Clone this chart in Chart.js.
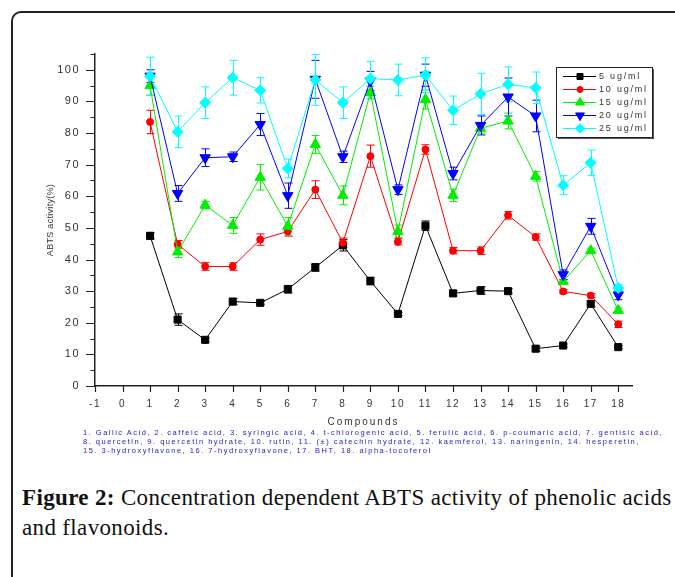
<!DOCTYPE html>
<html>
<head>
<meta charset="utf-8">
<script src="https://cdn.jsdelivr.net/npm/chart.js@4.4.0/dist/chart.umd.min.js"></script>
<style>
  html, body { margin: 0; padding: 0; background: #fff; overflow: hidden; width: 675px; height: 577px; }
  #frame { position: absolute; left: 11px; top: 11px; width: 720px; height: 620px; border: 2px solid #222; border-radius: 10px; }
  #chart-abts { position: absolute; left: 0; top: 0; }
  #notes { position: absolute; left: 83px; top: 428px; font-family: "Liberation Sans", Arial, sans-serif; font-size: 7.5px; line-height: 9px; letter-spacing: 1.5px; color: #2323c8; white-space: nowrap; }
  #caption { position: absolute; left: 22px; top: 483px; font-family: "Liberation Serif", "DejaVu Serif", serif; font-size: 23px; line-height: 30px; letter-spacing: 0.35px; color: #111; white-space: nowrap; }
</style>
</head>
<body>
<div id="frame"></div>
<canvas id="chart-abts" width="675" height="470"></canvas>
<div id="notes">1. Gallic Acid, 2. caffeic acid, 3. syringic acid, 4. t-chlorogenic acid, 5. ferulic acid, 6. p-coumaric acid, 7. gentisic acid,<br>8. quercetin, 9. quercetin hydrate, 10. rutin, 11. (±) catechin hydrate, 12. kaemferol, 13. naringenin, 14. hesperetin,<br>15. 3-hydroxyflavone, 16. 7-hydroxyflavone, 17. BHT, 18. alpha-tocoferol</div>
<div id="caption"><b>Figure 2:</b> Concentration dependent ABTS activity of phenolic acids<br>and flavonoids.</div>
<script>

	var compounds = [1, 2, 3, 4, 5, 6, 7, 8, 9, 10, 11, 12, 13, 14, 15, 16, 17, 18];

	var conc5  = [47.5, 21.0, 14.6, 26.7, 26.3, 30.6, 37.5, 44.5, 33.2, 22.8, 50.7, 29.3, 30.2, 30.0, 11.8, 12.8, 26.0, 12.3];
	var conc10 = [83.5, 44.8, 37.8, 37.8, 46.3, 48.9, 62.1, 45.3, 72.7, 45.6, 74.8, 42.8, 42.8, 54.0, 47.1, 29.9, 28.6, 19.5];
	var conc15 = [95.0, 42.4, 57.2, 50.8, 66.0, 50.5, 76.4, 60.3, 92.8, 48.9, 90.6, 60.3, 81.5, 83.8, 66.3, 33.1, 42.8, 23.9];
	var conc20 = [98.0, 60.9, 72.2, 72.5, 82.7, 60.2, 97.0, 72.5, 96.5, 62.1, 98.3, 67.2, 82.4, 91.4, 85.4, 35.2, 50.5, 28.8];
	var conc25 = [98.0, 80.4, 89.6, 97.5, 93.5, 68.8, 96.8, 89.6, 97.2, 96.8, 98.3, 87.2, 92.4, 95.4, 94.3, 63.5, 70.6, 31.0];

	// standard deviations (half height of each error bar)
	var err5  = [1.0, 1.8, 0.6, 1.0, 0.5, 1.2, 1.2, 1.8, 1.2, 0.5, 1.5, 0.8, 1.2, 0.8, 0.8, 0.5, 1.0, 0.5];
	var err10 = [3.7, 1.2, 1.2, 1.2, 1.8, 1.5, 2.8, 1.5, 3.5, 1.0, 1.5, 1.0, 1.2, 1.2, 1.0, 0.6, 0.6, 1.0];
	var err15 = [3.0, 1.8, 1.2, 2.5, 4.0, 2.8, 2.8, 3.0, 2.0, 2.0, 3.0, 2.0, 1.5, 2.5, 1.5, 0.5, 0.8, 0.8];
	var err20 = [2.0, 2.5, 2.8, 1.5, 3.5, 4.0, 6.0, 1.8, 3.0, 1.5, 3.5, 2.0, 3.0, 6.0, 5.0, 1.5, 2.5, 1.5];
	var err25 = [6.0, 5.0, 5.0, 5.5, 4.0, 3.0, 8.0, 5.0, 5.5, 5.0, 5.5, 4.5, 6.5, 5.5, 5.0, 3.0, 4.0, 1.0];

	var seriesLabels = ["5 ug/ml", "10 ug/ml", "15 ug/ml", "20 ug/ml", "25 ug/ml"];
	var seriesValues = [conc5, conc10, conc15, conc20, conc25];
	var seriesErrors = [err5, err10, err15, err20, err25];

	var xTitle = "Compounds";
	var yTitle = "ABTS activity(%)";

	var colors = ["#000000", "#ff0000", "#00ee00", "#0000ff", "#00ffff"];
	var markers = [
		{ style: "rect", radius: 5, rotation: 0 },
		{ style: "circle", radius: 3.5, rotation: 0 },
		{ style: "triangle", radius: 6, rotation: 0 },
		{ style: "triangle", radius: 6, rotation: 180 },
		{ style: "rectRot", radius: 5.5, rotation: 0 }
	];

	var datasets = seriesValues.map(function(values, i) {
		return {
			label: seriesLabels[i],
			data: compounds.map(function(c, j) { return { x: c, y: values[j] }; }),
			borderColor: colors[i],
			backgroundColor: colors[i],
			borderWidth: 1,
			tension: 0,
			pointStyle: markers[i].style,
			pointRadius: markers[i].radius,
			pointRotation: markers[i].rotation,
			pointBorderWidth: 1,
			pointBorderColor: colors[i],
			pointBackgroundColor: colors[i],
			order: seriesValues.length - i
		};
	});

//	error bars, axis tick marks, titles and legend ----------------------------------------------------

	var abtsDecor = {
		id: "abtsDecor",
		beforeDraw: function(chart) {
			chart.ctx.letterSpacing = "1.5px";
		},
		beforeDatasetsDraw: function(chart) {
			var ctx = chart.ctx, xs = chart.scales.x, ys = chart.scales.y;
			ctx.save();
			ctx.lineWidth = 1;
			chart.data.datasets.forEach(function(ds, i) {
				ctx.strokeStyle = colors[i];
				ds.data.forEach(function(p, j) {
					var px = Math.round(xs.getPixelForValue(p.x)) + 0.5;
					var top = ys.getPixelForValue(p.y + seriesErrors[i][j]);
					var bot = ys.getPixelForValue(p.y - seriesErrors[i][j]);
					ctx.beginPath();
					ctx.moveTo(px, top); ctx.lineTo(px, bot);
					ctx.moveTo(px - 4, top); ctx.lineTo(px + 4, top);
					ctx.moveTo(px - 4, bot); ctx.lineTo(px + 4, bot);
					ctx.stroke();
				});
			});
			ctx.restore();
		},
		afterDraw: function(chart) {
			var ctx = chart.ctx, xs = chart.scales.x, ys = chart.scales.y, area = chart.chartArea;
			ctx.save();

			// tick marks
			ctx.strokeStyle = "#222";
			ctx.lineWidth = 1.2;
			ctx.beginPath();
			for (var v = ys.min; v <= ys.max; v += 5) {
				var py = Math.round(ys.getPixelForValue(v)) + 0.5;
				var len = (v % 10 === 0) ? 9 : 4.5;
				ctx.moveTo(area.left - len, py); ctx.lineTo(area.left, py);
			}
			xs.ticks.forEach(function(t) {
				var px = Math.round(xs.getPixelForValue(t.value)) + 0.5;
				ctx.moveTo(px, area.bottom); ctx.lineTo(px, area.bottom + 6);
			});
			ctx.stroke();

			// axis titles
			ctx.fillStyle = "#333";
			ctx.textAlign = "center";
			ctx.textBaseline = "middle";
			ctx.letterSpacing = "0.3px";
			ctx.font = "9px 'Liberation Sans', Arial, sans-serif";
			ctx.save();
			ctx.translate(51, (area.top + area.bottom) / 2);
			ctx.rotate(-Math.PI / 2);
			ctx.fillText(yTitle, 0, 0);
			ctx.restore();
			ctx.letterSpacing = "2px";
			ctx.font = "10px 'Liberation Sans', Arial, sans-serif";
			ctx.fillText(xTitle, (area.left + area.right) / 2, area.bottom + 36);

			// legend box
			var bx = area.right - 76, by = area.top + 13, bw = 96, bh = 70;
			ctx.fillStyle = "#555";
			ctx.fillRect(bx + 2, by + 2, bw, bh);
			ctx.fillStyle = "#fff";
			ctx.fillRect(bx, by, bw, bh);
			ctx.strokeStyle = "#222";
			ctx.lineWidth = 1;
			ctx.strokeRect(bx + 0.5, by + 0.5, bw, bh);

			ctx.font = "9px 'Liberation Sans', Arial, sans-serif";
			ctx.letterSpacing = "1.8px";
			ctx.textAlign = "left";
			chart.data.datasets.forEach(function(ds, i) {
				var ry = by + 9.5 + i * 13;
				ctx.strokeStyle = colors[i];
				ctx.fillStyle = colors[i];
				ctx.beginPath();
				ctx.moveTo(bx + 7, ry); ctx.lineTo(bx + 40, ry);
				ctx.stroke();
				Chart.helpers.drawPoint(ctx, {
					pointStyle: markers[i].style,
					rotation: markers[i].rotation,
					radius: markers[i].radius * 0.85,
					borderWidth: 1
				}, bx + 24, ry);
				ctx.fillStyle = "#333";
				ctx.fillText(ds.label, bx + 43, ry);
			});

			ctx.restore();
		}
	};

	var ctx = document.getElementById("chart-abts").getContext("2d");

	new Chart(ctx, {
		type: "line",
		data: { datasets: datasets },
		plugins: [abtsDecor],
		options: {
			responsive: false,
			animation: false,
			layout: { padding: { left: 0, top: 54, right: 43, bottom: 0 } },
			plugins: {
				legend: { display: false },
				tooltip: { enabled: false }
			},
			scales: {
				x: {
					type: "linear",
					min: -1,
					max: 18.5,
					grid: { display: false, drawTicks: false },
					border: { display: true, color: "#222", width: 1.5 },
					ticks: {
						stepSize: 1,
						includeBounds: false,
						padding: 12,
						color: "#333",
						font: { size: 10, family: "'Liberation Sans', Arial, sans-serif" }
					},
					afterFit: function(scale) { scale.height = 84; }
				},
				y: {
					min: 0,
					max: 105,
					grid: { display: false, drawTicks: false },
					border: { display: true, color: "#222", width: 1.5 },
					ticks: {
						stepSize: 10,
						includeBounds: false,
						padding: 15,
						color: "#333",
						font: { size: 11, family: "'Liberation Sans', Arial, sans-serif" }
					},
					afterFit: function(scale) { scale.width = 95; }
				}
			}
		}
	});

</script>
</body>
</html>
